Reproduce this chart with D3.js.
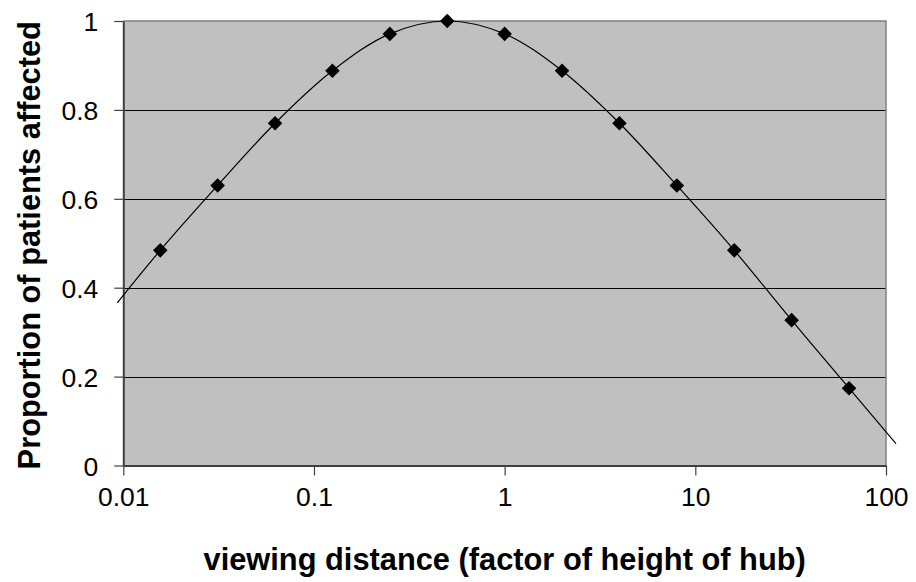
<!DOCTYPE html>
<html>
<head>
<meta charset="utf-8">
<script src="https://cdn.jsdelivr.net/npm/d3@7"></script>
<style>
	body { margin: 0; background: white; }
	svg { display: block; font-family: "Liberation Sans", Arial, sans-serif; }
</style>
</head>
<body>
<svg id="chart"></svg>
<script>
(function(){

	//Data
	var distances = [1/64, 1/32, 1/16, 1/8, 1/4, 1/2, 1, 2, 4, 8, 16, 32, 64];
	var proportions = [0.484, 0.630, 0.770, 0.888, 0.971, 1.0, 0.971, 0.888, 0.770, 0.630, 0.484, 0.327, 0.174];
	//ends of the smoothed line, which run a little past the plot frame
	var lineStart = [0.0093, 0.366];
	var lineEnd = [112.8, 0.049];

	var xTicks = [0.01, 0.1, 1, 10, 100];
	var xTickLabels = ["0.01", "0.1", "1", "10", "100"];
	var yTicks = [0, 0.2, 0.4, 0.6, 0.8, 1];
	var yTickLabels = ["0", "0.2", "0.4", "0.6", "0.8", "1"];

	var xTitle = "viewing distance (factor of height of hub)";
	var yTitle = "Proportion of patients affected";

	//SVG Configurations
	var svgWidth = 916, svgHeight = 582;
	var plot = {left: 123.3, right: 886, top: 21, bottom: 465.5};
	var tickFont = 26.5;
	var titleFont = 30.8;

	var svg = d3.select("#chart")
		.attr("width", svgWidth)
		.attr("height", svgHeight);

	var x = d3.scaleLog().domain([0.01, 100]).range([plot.left, plot.right]);
	var y = d3.scaleLinear().domain([0, 1]).range([plot.bottom, plot.top]);

	//plot background
	svg.append("rect")
		.attr("x", plot.left)
		.attr("y", plot.top)
		.attr("width", plot.right - plot.left)
		.attr("height", plot.bottom - plot.top)
		.attr("fill", "#c0c0c0");

	//gridlines
	svg.append("g")
		.selectAll("line")
		.data(yTicks.filter(function(d){ return d > 0 && d < 1; }))
		.enter()
		.append("line")
		.attr("x1", plot.left)
		.attr("x2", plot.right)
		.attr("y1", function(d){ return Math.round(y(d)) + 0.5; })
		.attr("y2", function(d){ return Math.round(y(d)) + 0.5; })
		.attr("stroke", "#000")
		.attr("stroke-width", 1);

	//top and right frame
	svg.append("path")
		.attr("d", "M" + plot.left + "," + plot.top + "H" + plot.right + "V" + plot.bottom)
		.attr("fill", "none")
		.attr("stroke", "#808080")
		.attr("stroke-width", 1.5);

	//axes
	var xAxis = d3.axisBottom(x)
		.tickValues(xTicks)
		.tickFormat(function(d, i){ return xTickLabels[i]; })
		.tickSizeInner(10)
		.tickSizeOuter(0)
		.tickPadding(12);

	var yAxis = d3.axisLeft(y)
		.tickValues(yTicks)
		.tickFormat(function(d, i){ return yTickLabels[i]; })
		.tickSizeInner(9)
		.tickSizeOuter(0)
		.tickPadding(16);

	var gx = svg.append("g")
		.attr("transform", "translate(0," + plot.bottom + ")")
		.call(xAxis);
	var gy = svg.append("g")
		.attr("transform", "translate(" + plot.left + ",0)")
		.call(yAxis);

	[gx, gy].forEach(function(g){
		g.select(".domain").attr("stroke", "#404040").attr("stroke-width", 2);
		g.selectAll(".tick line").attr("stroke", "#404040").attr("stroke-width", 1.2);
		g.selectAll(".tick text")
			.attr("font-size", tickFont + "px")
			.attr("font-family", "Liberation Sans, Arial, sans-serif")
			.attr("fill", "#000");
	});
	gy.selectAll(".tick text").attr("dy", "0.36em");

	//smoothed line
	var linePoints = [lineStart].concat(distances.map(function(d, i){ return [d, proportions[i]]; }), [lineEnd]);
	var line = d3.line()
		.x(function(d){ return x(d[0]); })
		.y(function(d){ return y(d[1]); })
		.curve(d3.curveCatmullRom.alpha(0.5));

	svg.append("path")
		.datum(linePoints)
		.attr("d", line)
		.attr("fill", "none")
		.attr("stroke", "#000")
		.attr("stroke-width", 1.2);

	//diamond markers
	var diamond = d3.symbol().type(d3.symbolDiamond2).size(135);
	svg.append("g")
		.selectAll("path")
		.data(distances)
		.enter()
		.append("path")
		.attr("d", diamond)
		.attr("transform", function(d, i){
			return "translate(" + x(d) + "," + y(proportions[i]) + ")";
		})
		.attr("fill", "#000");

	//axis titles
	svg.append("text")
		.attr("x", (plot.left + plot.right) / 2)
		.attr("y", 570)
		.attr("text-anchor", "middle")
		.attr("font-size", titleFont + "px")
		.attr("font-weight", "bold")
		.text(xTitle);

	svg.append("text")
		.attr("transform", "translate(40," + ((plot.top + plot.bottom) / 2 + 2) + ") rotate(-90)")
		.attr("text-anchor", "middle")
		.attr("font-size", titleFont + "px")
		.attr("font-weight", "bold")
		.text(yTitle);

})();
</script>
</body>
</html>
